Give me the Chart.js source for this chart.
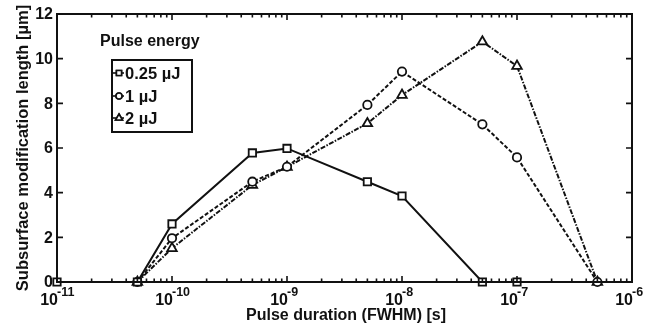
<!DOCTYPE html>
<html><head><meta charset="utf-8">
<script src="https://cdn.jsdelivr.net/npm/chart.js@4/dist/chart.umd.min.js"></script>
<style>html,body{margin:0;padding:0;background:#fff}#w{width:654px;height:326px;position:relative}</style>
</head><body><div id="w"><canvas id="c" width="654" height="326"></canvas></div>
<script>
const durations = [1e-11, 5e-11, 1e-10, 5e-10, 1e-9, 5e-9, 1e-8, 5e-8, 1e-7, 5e-7];
const seriesNames = ['0.25 \u00b5J', '1 \u00b5J', '2 \u00b5J'];
const len025 = [0, 0, 2.6, 5.78, 5.98, 4.49, 3.85, 0, 0, null];
const len1 = [null, 0, 1.96, 4.49, 5.16, 7.93, 9.42, 7.06, 5.58, 0];
const len2 = [null, 0, 1.51, 4.34, 5.15, 7.10, 8.37, 10.76, 9.67, 0];
const xTickExps = [-11, -10, -9, -8, -7, -6];
const yTicks = [0, 2, 4, 6, 8, 10, 12];
const legendTitle = 'Pulse energy';
const xTitle = 'Pulse duration (FWHM) [s]';
const yTitle = 'Subsurface modification length [\u00b5m]';

const FONT = '"Liberation Sans", Arial, sans-serif';
const INK = '#111';
const styles = [
  {pointStyle: 'rect', radius: 5.2, lr: 3.6, dash: []},
  {pointStyle: 'circle', radius: 4.2, lr: 3, dash: [4, 2]},
  {pointStyle: 'triangle', radius: 5.5, lr: 4, dash: [5, 1.5, 1.5, 1.5]}
];
const seriesData = [len025, len1, len2];

function mk(i) {
  return {
    label: seriesNames[i],
    data: durations.map((d, k) => ({x: d, y: seriesData[i][k]})).filter(p => p.y !== null),
    borderColor: INK, borderWidth: 2, borderDash: styles[i].dash,
    pointStyle: styles[i].pointStyle, pointRadius: styles[i].radius,
    pointBorderColor: INK, pointBackgroundColor: '#fff', pointBorderWidth: 1.8,
    tension: 0, fill: false
  };
}

const decor = {
  id: 'decor',
  afterDraw(chart) {
    const ctx = chart.ctx, a = chart.chartArea, xs = chart.scales.x, ys = chart.scales.y;
    ctx.save();
    ctx.strokeStyle = INK; ctx.fillStyle = INK;
    ctx.lineWidth = 2;
    ctx.setLineDash([]);
    ctx.strokeRect(a.left, a.top, a.right - a.left, a.bottom - a.top);
    ctx.lineWidth = 1.6;
    for (let e = -11; e < -6; e++) {
      for (let m = 1; m <= 9; m++) {
        const v = m * Math.pow(10, e);
        const px = xs.getPixelForValue(v);
        const L = m === 1 ? 6 : 3.5;
        ctx.beginPath();
        ctx.moveTo(px, a.bottom); ctx.lineTo(px, a.bottom - L);
        ctx.moveTo(px, a.top); ctx.lineTo(px, a.top + L);
        ctx.stroke();
      }
    }
    yTicks.forEach(v => {
      const py = ys.getPixelForValue(v);
      ctx.beginPath();
      ctx.moveTo(a.left, py); ctx.lineTo(a.left + 6, py);
      ctx.moveTo(a.right, py); ctx.lineTo(a.right - 6, py);
      ctx.stroke();
    });
    ctx.font = 'bold 16px ' + FONT;
    ctx.textAlign = 'right'; ctx.textBaseline = 'middle';
    yTicks.forEach(v => ctx.fillText(String(v), a.left - 4, ys.getPixelForValue(v) + 1));
    xTickExps.forEach(e => {
      const px = xs.getPixelForValue(Math.pow(10, e));
      ctx.font = 'bold 16px ' + FONT;
      const wb = ctx.measureText('10').width;
      ctx.textAlign = 'left'; ctx.textBaseline = 'alphabetic';
      const x0 = px - wb + 1;
      ctx.fillText('10', x0, 305);
      ctx.font = 'bold 12.5px ' + FONT;
      ctx.fillText(String(e), x0 + wb - 1, 296);
    });
    ctx.font = 'bold 16px ' + FONT;
    ctx.textAlign = 'center'; ctx.textBaseline = 'alphabetic';
    ctx.fillText(xTitle, 346, 320);
    ctx.save();
    ctx.translate(28, 148);
    ctx.rotate(-Math.PI / 2);
    ctx.font = 'bold 16.5px ' + FONT;
    ctx.fillText(yTitle, 0, 0);
    ctx.restore();
    ctx.font = 'bold 16px ' + FONT;
    ctx.textAlign = 'left';
    ctx.fillText(legendTitle, 100, 46);
    ctx.lineWidth = 2;
    ctx.strokeRect(112, 60, 80, 72);
    const rows = [73, 96, 118];
    ctx.font = 'bold 16.5px ' + FONT;
    chart.data.datasets.forEach((ds, i) => {
      const y = rows[i];
      ctx.lineWidth = 1.6; ctx.setLineDash([]);
      ctx.beginPath(); ctx.moveTo(113, y); ctx.lineTo(124, y); ctx.stroke();
      ctx.fillStyle = '#fff';
      Chart.helpers.drawPoint(ctx, {pointStyle: styles[i].pointStyle, radius: styles[i].lr, rotation: 0, borderWidth: 1.5}, 119, y);
      ctx.fill(); ctx.stroke();
      ctx.fillStyle = INK;
      ctx.textBaseline = 'middle';
      ctx.fillText(ds.label, 125, y + 1);
    });
    ctx.restore();
  }
};

new Chart(document.getElementById('c'), {
  type: 'line',
  data: {datasets: [mk(0), mk(1), mk(2)]},
  options: {
    responsive: false, animation: false, devicePixelRatio: 1,
    layout: {padding: {top: 14, right: 22, left: 0, bottom: 0}},
    plugins: {legend: {display: false}, tooltip: {enabled: false}},
    scales: {
      x: {type: 'logarithmic', min: 1e-11, max: 1e-6,
          grid: {display: false}, border: {display: false},
          ticks: {display: false},
          afterFit(s) { s.height = 44; }},
      y: {type: 'linear', min: 0, max: 12,
          grid: {display: false}, border: {display: false},
          ticks: {display: false, stepSize: 2},
          afterFit(s) { s.width = 57; }}
    },
    clip: false
  },
  plugins: [decor]
});
</script></body></html>
